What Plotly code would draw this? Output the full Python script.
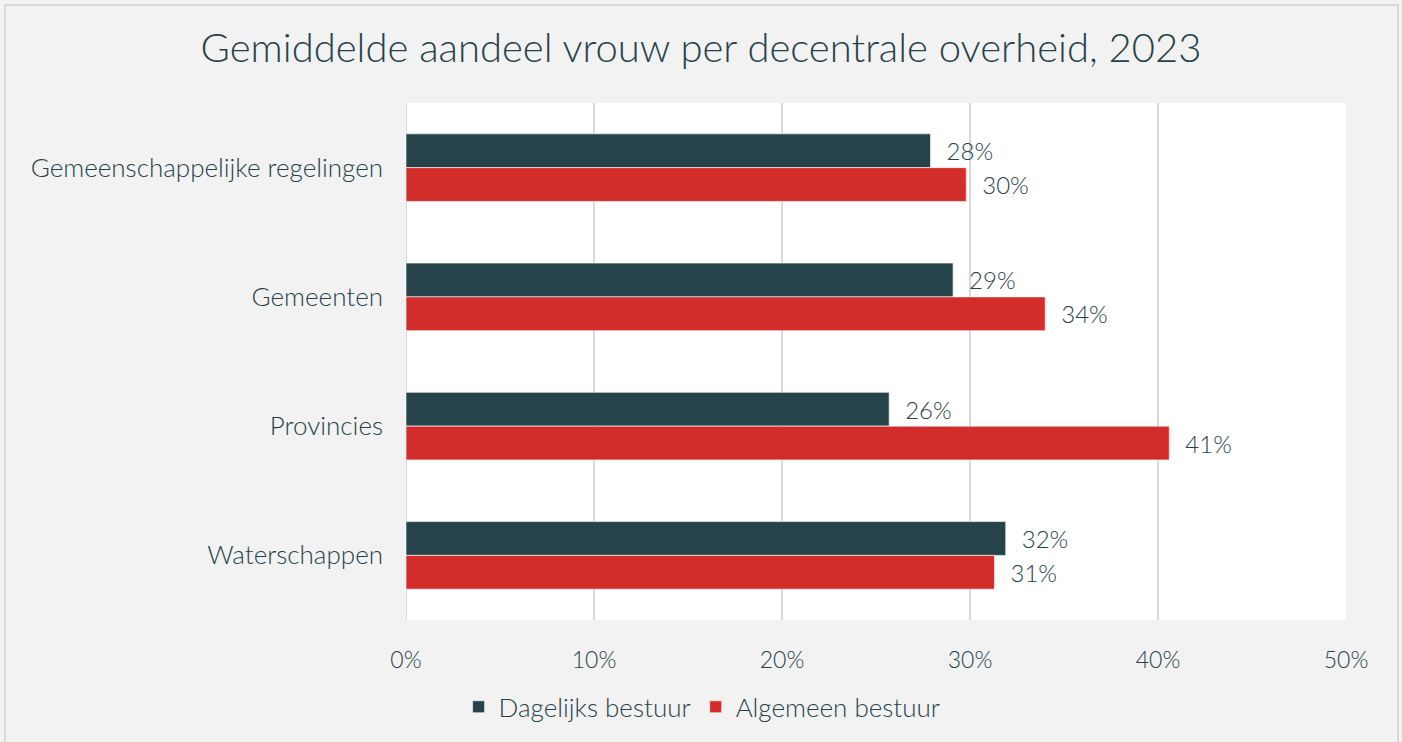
import plotly.graph_objects as go

categories = ["Gemeenschappelijke regelingen", "Gemeenten", "Provincies", "Waterschappen"]
dagelijks = [27.9, 29.1, 25.7, 31.9]
algemeen = [29.8, 34.0, 40.6, 31.3]
series_names = ["Dagelijks bestuur", "Algemeen bestuur"]
tick_vals = [0, 10, 20, 30, 40, 50]
tick_text = ["0%", "10%", "20%", "30%", "40%", "50%"]

TEXT = "#264249"
FONT = "Lato"
DARK = "#26434a"
RED = "#d22d2b"

fig = go.Figure()
for name, vals, col in [(series_names[0], dagelijks, DARK), (series_names[1], algemeen, RED)]:
    fig.add_trace(go.Bar(
        y=categories, x=vals, name=name, orientation="h",
        marker=dict(color=col, line=dict(color="rgba(255,255,255,0.6)", width=1)),
        texttemplate="\u00a0\u00a0%{x:.0f}%", textposition="outside",
        textfont=dict(family=FONT, size=24, color=TEXT, weight=300),
        cliponaxis=False,
    ))

fig.update_layout(
    width=1402, height=742,
    barmode="group", bargap=0.477, bargroupgap=0,
    paper_bgcolor="#f2f2f2", plot_bgcolor="white",
    margin=dict(l=406, r=56, t=103, b=122),
    title=dict(text="Gemiddelde aandeel vrouw per decentrale overheid, 2023",
               x=0.5, xref="container", y=1 - 48 / 742, yref="container",
               xanchor="center", yanchor="middle",
               font=dict(family=FONT, size=40, color=TEXT, weight=300)),
    font=dict(family=FONT, size=22, color=TEXT),
    xaxis=dict(range=[0, 50], tickvals=tick_vals, ticktext=tick_text,
               showgrid=True, gridcolor="#d9d9d9", gridwidth=2,
               zeroline=False, showline=False, ticks="", ticklabelstandoff=24,
               tickfont=dict(family=FONT, size=23, color=TEXT, weight=300)),
    yaxis=dict(autorange="reversed", showgrid=False, zeroline=False, ticks="",
               ticklabelstandoff=22,
               tickfont=dict(family=FONT, size=26, color=TEXT, weight=300)),
    legend=dict(orientation="h", x=0.315, xanchor="center", y=-0.168, yanchor="middle",
                font=dict(family=FONT, size=26, color=TEXT, weight=300), bgcolor="rgba(0,0,0,0)",
                itemwidth=30, traceorder="normal"),
    showlegend=True,
    shapes=[dict(type="rect", xref="paper", yref="paper",
                 x0=(5 - 406) / 940, x1=(1398 - 406) / 940,
                 y0=(620 - 760) / 517, y1=(620 - 5) / 517,
                 line=dict(color="#d9d9d9", width=2), fillcolor="rgba(0,0,0,0)", layer="below"),
            dict(type="line", xref="x", yref="paper", x0=0, x1=0, y0=0, y1=1,
                 line=dict(color="#d9d9d9", width=2), layer="below")],
)

fig.write_html("out.html", config={"displayModeBar": False},
               post_script="document.body.style.margin='0';document.body.style.overflow='hidden';")
